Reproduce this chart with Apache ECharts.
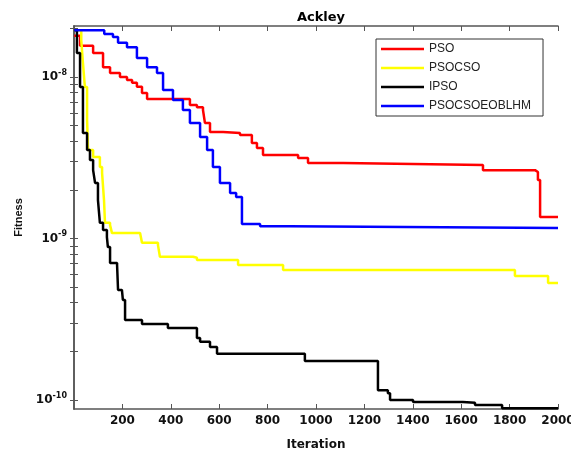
<!DOCTYPE html>
<html>
<head>
<meta charset="utf-8">
<script src="https://cdn.jsdelivr.net/npm/echarts@6/dist/echarts.min.js"></script>
<style>
  html, body { margin: 0; padding: 0; background: #fff; }
  #chart { width: 571px; height: 454px; }
</style>
</head>
<body>
<div id="chart"></div>
<script>
// Best fitness per iteration on the Ackley function (log scale), step curves.
const psoIter = [1, 25, 79, 120, 149, 190, 219, 240, 260, 281, 302, 479, 508, 533, 541, 562, 616, 686, 735, 756, 781, 926, 967, 1112, 1690, 1905, 1917, 1926, 2000];
const psoFit  = [1.8e-8, 1.56e-8, 1.41e-8, 1.15e-8, 1.06e-8, 1.0e-8, 9.6e-9, 9.2e-9, 8.7e-9, 7.95e-9, 7.3e-9, 6.7e-9, 6.5e-9, 6.25e-9, 5.2e-9, 4.56e-9, 4.5e-9, 4.37e-9, 3.9e-9, 3.63e-9, 3.29e-9, 3.15e-9, 2.93e-9, 2.85e-9, 2.65e-9, 2.58e-9, 2.3e-9, 1.36e-9, 1.36e-9];

const psocsoIter = [1, 30, 37, 45, 54, 58, 79, 107, 116, 124, 128, 149, 157, 273, 281, 347, 355, 492, 508, 678, 864, 1822, 1959, 2000];
const psocsoFit  = [1.95e-8, 1.69e-8, 1.22e-8, 8.67e-9, 5.42e-9, 3.53e-9, 3.2e-9, 2.77e-9, 2.55e-9, 1.73e-9, 1.25e-9, 1.21e-9, 1.08e-9, 1.05e-9, 9.4e-10, 9.1e-10, 7.7e-10, 7.6e-10, 7.35e-10, 6.85e-10, 6.38e-10, 5.86e-10, 5.3e-10, 5.3e-10];

const ipsoIter = [1, 12, 25, 37, 54, 66, 79, 87, 99, 107, 120, 136, 140, 149, 178, 182, 198, 202, 211, 281, 388, 508, 521, 562, 591, 954, 1256, 1297, 1306, 1401, 1607, 1657, 1769, 2000];
const ipsoFit  = [1.95e-8, 1.41e-8, 8.67e-9, 4.5e-9, 3.53e-9, 3.06e-9, 2.65e-9, 2.21e-9, 1.73e-9, 1.25e-9, 1.13e-9, 1.02e-9, 8.85e-10, 7.05e-10, 6.85e-10, 4.8e-10, 4.67e-10, 4.16e-10, 3.13e-10, 2.95e-10, 2.79e-10, 2.42e-10, 2.29e-10, 2.13e-10, 1.93e-10, 1.74e-10, 1.15e-10, 1.10e-10, 1.0e-10, 9.7e-11, 9.6e-11, 9.3e-11, 8.9e-11, 8.9e-11];

const hybridIter = [1, 125, 161, 182, 219, 260, 302, 343, 368, 409, 450, 479, 521, 550, 574, 603, 645, 670, 694, 769, 893, 2000];
const hybridFit  = [1.95e-8, 1.85e-8, 1.77e-8, 1.63e-8, 1.53e-8, 1.31e-8, 1.15e-8, 1.06e-8, 8.3e-9, 7.2e-9, 6.25e-9, 5.2e-9, 4.25e-9, 3.53e-9, 2.77e-9, 2.21e-9, 1.91e-9, 1.81e-9, 1.23e-9, 1.19e-9, 1.16e-9, 1.16e-9];

const seriesNames = ['PSO', 'PSOCSO', 'IPSO', 'PSOCSOEOBLHM'];
const seriesColors = ['#ff0000', '#ffff00', '#000000', '#0000ff'];

// Axis ranges and ticks
const xMin = 0, xMax = 2000, xStep = 200;
const yMin = 8.79e-11, yMax = 2.07e-8;
const yLabelValues = [1e-10, 1e-9, 1e-8];
const yTickValues = [];
[1e-10, 1e-9, 1e-8].forEach(d => { for (let k = 1; k <= 9; k++) yTickValues.push(k * d); });

const zip = (xs, ys) => xs.map((x, i) => [x, ys[i]]);
const seriesData = [zip(psoIter, psoFit), zip(psocsoIter, psocsoFit), zip(ipsoIter, ipsoFit), zip(hybridIter, hybridFit)];

const chart = echarts.init(document.getElementById('chart'), null, { renderer: 'canvas' });
const axisColor = '#555';
const labelFont = 'DejaVu Sans';

chart.setOption({
  backgroundColor: '#ffffff',
  animation: false,
  title: {
    text: 'Ackley',
    left: 316,
    top: 6,
    textAlign: 'center',
    textStyle: { fontFamily: labelFont, fontWeight: 'bold', fontSize: 13, color: '#000' }
  },
  grid: { left: 74, right: 13, top: 26, bottom: 45, containLabel: false, outerBoundsMode: 'none' },
  legend: {
    data: seriesNames,
    orient: 'vertical',
    left: 376,
    top: 39,
    icon: 'rect',
    itemWidth: 43,
    itemHeight: 2.5,
    itemGap: 5,
    padding: [3, 12, 3, 5],
    backgroundColor: '#fff',
    borderColor: '#333',
    borderWidth: 1,
    textStyle: { fontFamily: 'Liberation Sans', fontSize: 12, color: '#222', lineHeight: 14 }
  },
  xAxis: [
    {
      type: 'value', position: 'bottom', min: xMin, max: xMax, interval: xStep,
      name: 'Iteration', nameLocation: 'middle', nameGap: 30,
      nameTextStyle: { fontFamily: labelFont, fontWeight: 'bold', fontSize: 12, color: '#111' },
      axisLine: { show: true, lineStyle: { color: axisColor, width: 1.5 } },
      axisTick: { show: true, inside: true, length: 5, lineStyle: { color: axisColor } },
      axisLabel: {
        showMinLabel: false, margin: 6,
        formatter: v => String(v),
        fontFamily: labelFont, fontWeight: 'bold', fontSize: 12, color: '#111'
      },
      splitLine: { show: false }
    },
    {
      type: 'value', position: 'top', min: xMin, max: xMax, interval: xStep,
      axisLine: { show: true, lineStyle: { color: axisColor, width: 1.5 } },
      axisTick: { show: true, inside: true, length: 5, lineStyle: { color: axisColor } },
      axisLabel: { show: false },
      splitLine: { show: false }
    }
  ],
  yAxis: [
    {
      type: 'log', logBase: 10, position: 'left', min: yMin, max: yMax,
      name: 'Fitness', nameLocation: 'middle', nameGap: 47,
      nameTextStyle: { fontFamily: 'Liberation Sans', fontWeight: 'bold', fontSize: 11, color: '#111' },
      axisLine: { show: true, lineStyle: { color: axisColor, width: 1.5 } },
      axisTick: { show: true, inside: true, length: 4, customValues: yTickValues, lineStyle: { color: axisColor } },
      axisLabel: {
        customValues: yLabelValues,
        margin: 7,
        formatter: v => '{b|10}{s|' + Math.round(Math.log10(v)) + '}',
        rich: {
          b: { fontFamily: labelFont, fontWeight: 'bold', fontSize: 12, color: '#111' },
          s: { fontFamily: labelFont, fontWeight: 'bold', fontSize: 8, color: '#111', padding: [0, 0, 9, 0] }
        }
      },
      splitLine: { show: false },
      minorTick: { show: false }
    },
    {
      type: 'log', logBase: 10, position: 'right', min: yMin, max: yMax,
      axisLine: { show: true, lineStyle: { color: axisColor, width: 1.5 } },
      axisTick: { show: true, inside: true, length: 4, customValues: yTickValues, lineStyle: { color: axisColor } },
      axisLabel: { show: false },
      splitLine: { show: false }
    }
  ],
  series: seriesNames.map((name, i) => ({
    name: name,
    type: 'line',
    step: 'end',
    xAxisIndex: 0,
    yAxisIndex: 0,
    symbol: 'none',
    data: seriesData[i],
    color: seriesColors[i],
    lineStyle: { color: seriesColors[i], width: 2.5 }
  }))
});
</script>
</body>
</html>
